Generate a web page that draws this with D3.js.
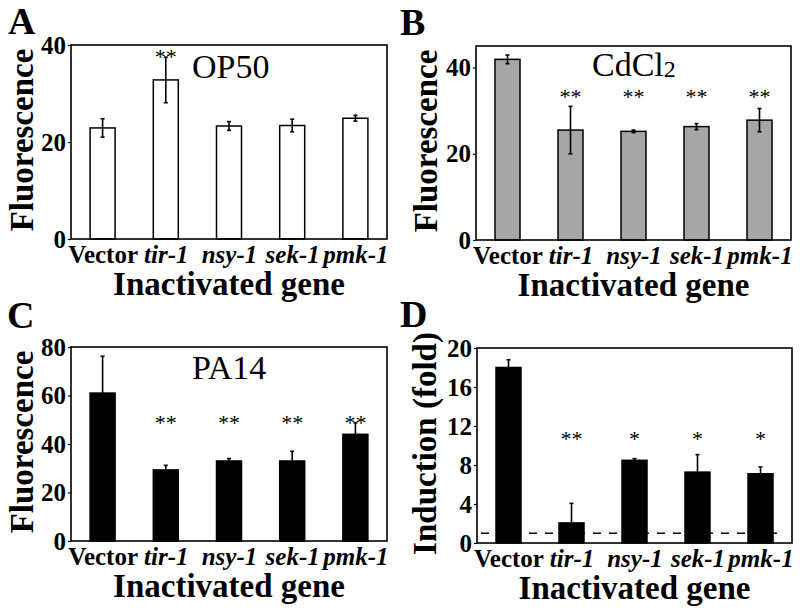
<!DOCTYPE html>
<html>
<head>
<meta charset="utf-8">
<script src="https://cdn.jsdelivr.net/npm/d3@7"></script>
<style>
  html, body { margin: 0; padding: 0; background: #fff; }
  svg { display: block; }
  text { font-family: "Liberation Serif", "Times New Roman", Times, serif; fill: #000; }
</style>
</head>
<body>
<svg id="chart" width="800" height="609"></svg>
<script>
// ---- data ----
const genes = ["Vector", "tir-1", "nsy-1", "sek-1", "pmk-1"];

const op50Mean = [22.9, 32.8, 23.3, 23.4, 24.9];
const op50Err  = [1.9, 4.7, 0.9, 1.3, 0.6];
const op50Stars = ["", "**", "", "", ""];
const op50Ticks = [0, 20, 40];

const cdMean = [41.9, 25.5, 25.2, 26.3, 27.8];
const cdErr  = [1.0, 5.5, 0.3, 0.7, 2.7];
const cdStars = ["", "**", "**", "**", "**"];
const cdTicks = [0, 20, 40];

const pa14Mean = [61.0, 29.3, 33.0, 33.0, 44.0];
const pa14Err  = [15.2, 1.9, 1.0, 4.0, 4.7];
const pa14Stars = ["", "**", "**", "**", "**"];
const pa14Ticks = [0, 20, 40, 60, 80];

const indMean = [18.0, 2.06, 8.48, 7.27, 7.1];
const indErr  = [0.8, 2.0, 0.17, 1.8, 0.7];
const indStars = ["", "**", "*", "*", "*"];
const indTicks = [0, 4, 8, 12, 16, 20];
const indBaseline = 1;

// ---- panels ----
const panels = [
  { letter: "A", lx: 8, ly: 34, box: [71, 45, 387, 239], domain: [0, 40], mean: op50Mean, err: op50Err,
    stars: op50Stars, starLevel: 36.0, ticks: op50Ticks, fill: "#ffffff", ytitle: "Fluorescence",
    ytx: 33, cond: "OP50", condX: 192, condY: 78 },
  { letter: "B", lx: 400, ly: 35, box: [476, 46, 791, 240], domain: [0, 45], mean: cdMean, err: cdErr,
    stars: cdStars, starLevel: 31.6, ticks: cdTicks, fill: "#a6a6a6", ytitle: "Fluorescence",
    ytx: 437, cond: "CdCl", sub: "2", condX: 592, condY: 76 },
  { letter: "C", lx: 7, ly: 328, box: [71, 347, 387, 541], domain: [0, 80], mean: pa14Mean, err: pa14Err,
    stars: pa14Stars, starLevel: 45.6, ticks: pa14Ticks, fill: "#000000", ytitle: "Fluorescence",
    ytx: 33, cond: "PA14", condX: 192, condY: 379 },
  { letter: "D", lx: 400, ly: 327, box: [477, 348, 792, 543], domain: [0, 20], mean: indMean, err: indErr,
    stars: indStars, starLevel: 9.95, ticks: indTicks, fill: "#000000", ytitle: "Induction (fold)",
    ytx: 436, baseline: indBaseline }
];

const svg = d3.select("#chart");

panels.forEach(p => {
  const [x0, y0, x1, y1] = p.box;
  const w = x1 - x0, h = y1 - y0;
  const g = svg.append("g").attr("transform", `translate(${x0},${y0})`);
  const x = d3.scalePoint().domain(genes).range([0, w]).padding(0.5);
  const y = d3.scaleLinear().domain(p.domain).range([h, 0]);
  const bw = 25;

  const rows = genes.map((gname, i) => ({ gene: gname, mean: p.mean[i], err: p.err[i], star: p.stars[i] }));

  // bars
  g.selectAll("rect.bar").data(rows).join("rect")
    .attr("class", "bar")
    .attr("x", d => x(d.gene) - bw / 2)
    .attr("y", d => y(d.mean))
    .attr("width", bw)
    .attr("height", d => h - y(d.mean))
    .attr("fill", p.fill)
    .attr("stroke", "#000")
    .attr("stroke-width", 1.5);

  // error bars
  const eg = g.selectAll("g.err").data(rows).join("g").attr("class", "err");
  eg.append("line")
    .attr("x1", d => x(d.gene)).attr("x2", d => x(d.gene))
    .attr("y1", d => y(d.mean + d.err)).attr("y2", d => y(Math.max(0, d.mean - d.err)))
    .attr("stroke", "#000").attr("stroke-width", 1.6);
  eg.append("line")
    .attr("x1", d => x(d.gene) - 2).attr("x2", d => x(d.gene) + 2)
    .attr("y1", d => y(d.mean + d.err)).attr("y2", d => y(d.mean + d.err))
    .attr("stroke", "#000").attr("stroke-width", 1.6);
  eg.append("line")
    .attr("x1", d => x(d.gene) - 2).attr("x2", d => x(d.gene) + 2)
    .attr("y1", d => y(Math.max(0, d.mean - d.err))).attr("y2", d => y(Math.max(0, d.mean - d.err)))
    .attr("stroke", d => p.fill === "#000000" ? "none" : "#000").attr("stroke-width", 1.6);

  // dashed baseline
  if (p.baseline !== undefined) {
    g.append("line")
      .attr("x1", 4).attr("x2", w - 8)
      .attr("y1", y(p.baseline)).attr("y2", y(p.baseline))
      .attr("stroke", "#000").attr("stroke-width", 1.6)
      .attr("stroke-dasharray", "8,8");
  }

  // stars
  g.selectAll("text.star").data(rows.filter(d => d.star)).join("text")
    .attr("class", "star")
    .attr("x", d => x(d.gene))
    .attr("y", y(p.starLevel))
    .attr("text-anchor", "middle")
    .attr("font-size", 22)
    .text(d => d.star);

  // frame
  g.append("rect").attr("x", 0).attr("y", 0).attr("width", w).attr("height", h)
    .attr("fill", "none").attr("stroke", "#000").attr("stroke-width", 1.6);

  // y axis
  const ya = g.append("g").call(d3.axisLeft(y).tickValues(p.ticks).tickSize(3).tickPadding(2));
  ya.select(".domain").remove();
  ya.selectAll(".tick line").attr("stroke-width", 1.2);
  ya.selectAll(".tick text")
    .attr("font-family", '"Liberation Serif", "Times New Roman", serif')
    .attr("font-size", 25).attr("font-weight", "bold").attr("fill", "#000");

  // x axis
  const xa = g.append("g").attr("transform", `translate(0,${h})`).call(d3.axisBottom(x).tickSize(0));
  xa.select(".domain").remove();
  xa.selectAll(".tick text")
    .attr("font-family", '"Liberation Serif", "Times New Roman", serif')
    .attr("font-size", 25).attr("font-weight", "bold").attr("fill", "#000")
    .attr("dy", null).attr("y", 24)
    .attr("font-style", d => d === "Vector" ? "normal" : "italic");

  // x title
  g.append("text").attr("x", w / 2).attr("y", h + 56)
    .attr("text-anchor", "middle").attr("font-size", 33).attr("font-weight", "bold")
    .text("Inactivated gene");

  // y title
  svg.append("text")
    .attr("transform", `translate(${p.ytx},${y0 + h / 2 - 2}) rotate(-90)`)
    .attr("text-anchor", "middle").attr("font-size", 33).attr("font-weight", "bold")
    .text(p.ytitle);

  // condition label
  if (p.cond) {
    const t = svg.append("text").attr("x", p.condX).attr("y", p.condY).attr("font-size", 34).text(p.cond);
    if (p.sub) t.append("tspan").attr("font-size", 24).attr("dy", 1).text(p.sub);
  }

  // panel letter
  svg.append("text").attr("x", p.lx).attr("y", p.ly)
    .attr("font-size", 38).attr("font-weight", "bold").text(p.letter);
});
</script>
</body>
</html>
